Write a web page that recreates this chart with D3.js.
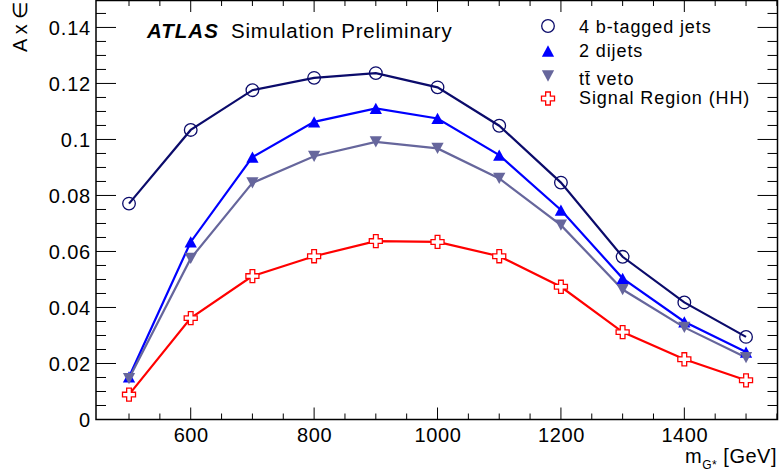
<!DOCTYPE html>
<html>
<head>
<meta charset="utf-8">
<script src="https://cdn.jsdelivr.net/npm/d3@7"></script>
<style>
html,body{margin:0;padding:0;background:#fff;}
svg{display:block;font-family:"Liberation Sans",Arial,Helvetica,sans-serif;}
</style>
</head>
<body>
<svg id="chart" width="782" height="474"></svg>
<script>
const masses = [500, 600, 700, 800, 900, 1000, 1100, 1200, 1300, 1400, 1500];
const fourB = [0.0771, 0.1034, 0.1176, 0.1220, 0.1237, 0.1186, 0.1049, 0.0846, 0.0581, 0.0418, 0.0295];
const twoDijets = [0.0152, 0.0634, 0.0937, 0.1063, 0.1111, 0.1075, 0.0944, 0.0748, 0.0504, 0.0349, 0.0241];
const ttVeto = [0.0146, 0.0575, 0.0845, 0.0940, 0.0991, 0.0968, 0.0861, 0.0694, 0.0464, 0.0329, 0.0221];
const signalRegion = [0.0089, 0.0362, 0.0512, 0.0583, 0.0637, 0.0634, 0.0583, 0.0474, 0.0312, 0.0215, 0.0140];
const seriesNames = ["4 b-tagged jets", "2 dijets", "tt\u0304 veto", "Signal Region (HH)"];
const xTickValues = [600, 800, 1000, 1200, 1400];
const yTickValues = [0, 0.02, 0.04, 0.06, 0.08, 0.1, 0.12, 0.14];
const yTickLabels = ["0", "0.02", "0.04", "0.06", "0.08", "0.1", "0.12", "0.14"];

const svg = d3.select("#chart");
const L = 96, R = 777.5, T = 0, B = 419.5;
const x = d3.scaleLinear().domain([446.5, 1551]).range([L, R]);
const y = d3.scaleLinear().domain([0, 0.1498]).range([B, T]);

// custom marker symbols
const triUp = { draw(ctx, size) { const s = Math.sqrt(size); const w = s/2, h = s*0.46;
  ctx.moveTo(0, -h); ctx.lineTo(w, h); ctx.lineTo(-w, h); ctx.closePath(); } };
const triDown = { draw(ctx, size) { const s = Math.sqrt(size); const w = s/2, h = s*0.46;
  ctx.moveTo(0, h); ctx.lineTo(w, -h); ctx.lineTo(-w, -h); ctx.closePath(); } };
const openCross = { draw(ctx, size) { const a = Math.sqrt(size)/2, b = a*0.36;
  ctx.moveTo(-b, -a); ctx.lineTo(b, -a); ctx.lineTo(b, -b); ctx.lineTo(a, -b); ctx.lineTo(a, b);
  ctx.lineTo(b, b); ctx.lineTo(b, a); ctx.lineTo(-b, a); ctx.lineTo(-b, b); ctx.lineTo(-a, b);
  ctx.lineTo(-a, -b); ctx.lineTo(-b, -b); ctx.closePath(); } };

const series = [
  { name: seriesNames[0], values: fourB, color: "#0b0b6b", symbol: d3.symbolCircle, size: 125, fill: "none", sw: 1.3 },
  { name: seriesNames[1], values: twoDijets, color: "#0000ff", symbol: triUp, size: 150, fill: "#0000ff", sw: 0 },
  { name: seriesNames[2], values: ttVeto, color: "#66669c", symbol: triDown, size: 150, fill: "#66669c", sw: 0 },
  { name: seriesNames[3], values: signalRegion, color: "#ff0000", symbol: openCross, size: 170, fill: "#ffffff", sw: 1.3 }
];

const g = svg.append("g");
const axBottom = d3.axisBottom(x).tickValues(xTickValues).tickSize(0).tickPadding(0).tickFormat(d3.format("d"));
const minorX = d3.range(500, 1551, 50).filter(v => v % 200 !== 0);
const minorY = d3.range(0.005, 0.1498, 0.005).filter(v => Math.abs(v/0.02 - Math.round(v/0.02)) > 1e-6);

const gb = g.append("g").attr("transform", `translate(0,${B})`).call(axBottom);
gb.select(".domain").remove();
gb.selectAll("text").attr("dy", 0).attr("y", 22).attr("font-size", 20).attr("fill", "#000")
  .attr("letter-spacing", "0.6px")
  .attr("font-family", "Liberation Sans, Arial, sans-serif");
const tickStyle = s => s.attr("stroke", "#000").attr("stroke-width", 1);
g.selectAll(".xmaj").data(xTickValues).join("line").call(tickStyle)
  .attr("x1", d => x(d)).attr("x2", d => x(d)).attr("y1", B).attr("y2", B - 12);
g.selectAll(".xmin").data(minorX).join("line").call(tickStyle)
  .attr("x1", d => x(d)).attr("x2", d => x(d)).attr("y1", B).attr("y2", B - 6);
g.selectAll(".xmajT").data(xTickValues).join("line").call(tickStyle)
  .attr("x1", d => x(d)).attr("x2", d => x(d)).attr("y1", T).attr("y2", T + 12);
g.selectAll(".xminT").data(minorX).join("line").call(tickStyle)
  .attr("x1", d => x(d)).attr("x2", d => x(d)).attr("y1", T).attr("y2", T + 6);
g.selectAll(".ymaj").data(yTickValues.slice(1)).join("line").call(tickStyle)
  .attr("x1", L).attr("x2", L + 20).attr("y1", d => y(d)).attr("y2", d => y(d));
g.selectAll(".ymin").data(minorY).join("line").call(tickStyle)
  .attr("x1", L).attr("x2", L + 10).attr("y1", d => y(d)).attr("y2", d => y(d));
g.selectAll(".ymajR").data(yTickValues.slice(1)).join("line").call(tickStyle)
  .attr("x1", R).attr("x2", R - 20).attr("y1", d => y(d)).attr("y2", d => y(d));
g.selectAll(".yminR").data(minorY).join("line").call(tickStyle)
  .attr("x1", R).attr("x2", R - 10).attr("y1", d => y(d)).attr("y2", d => y(d));
const axLeft = d3.axisLeft(y).tickValues(yTickValues).tickSize(0).tickPadding(5)
  .tickFormat((d, i) => yTickLabels[i]);
const gl = g.append("g").attr("transform", `translate(${L},0)`).call(axLeft);
gl.select(".domain").remove();
gl.selectAll("text").attr("font-size", 20).attr("fill", "#000").attr("dy", "0.36em")
  .attr("letter-spacing", "0.8px")
  .attr("font-family", "Liberation Sans, Arial, sans-serif");

g.append("rect").attr("x", L).attr("y", T + 0.5).attr("width", R - L).attr("height", B - T - 0.5)
  .attr("fill", "none").attr("stroke", "#000").attr("stroke-width", 1.5);

const line = d3.line().x(d => x(d[0])).y(d => y(d[1]));
series.forEach(s => {
  const pts = masses.map((m, i) => [m, s.values[i]]);
  svg.append("path").datum(pts).attr("d", line).attr("fill", "none")
    .attr("stroke", s.color).attr("stroke-width", 2.2);
});
series.forEach(s => {
  const pts = masses.map((m, i) => [m, s.values[i]]);
  svg.append("g").selectAll("path").data(pts).join("path")
    .attr("transform", d => `translate(${x(d[0])},${y(d[1])})`)
    .attr("d", d3.symbol().type(s.symbol).size(s.size))
    .attr("fill", s.fill === "none" ? "none" : s.fill)
    .attr("stroke", s.sw ? s.color : "none").attr("stroke-width", s.sw);
});

// legend
const legY = [26, 51, 76, 98.5];
const legTextY = [32.7, 57.3, 85, 104];
series.forEach((s, i) => {
  svg.append("path").attr("transform", `translate(548,${legY[i]})`)
    .attr("d", d3.symbol().type(s.symbol).size(s.size))
    .attr("fill", s.fill === "none" ? "none" : s.fill)
    .attr("stroke", s.sw ? s.color : "none").attr("stroke-width", s.sw);
  svg.append("text").attr("x", 579).attr("y", legTextY[i]).attr("font-size", 18)
    .attr("letter-spacing", "0.9px")
    .attr("fill", "#000").text(s.name);
});

// ATLAS label
const atl = svg.append("text").attr("x", 147).attr("y", 38).attr("font-size", 20.5).attr("fill", "#000");
atl.append("tspan").attr("font-weight", "bold").attr("font-style", "italic").attr("letter-spacing", "1px").text("ATLAS");
atl.append("tspan").attr("x", 231).attr("letter-spacing", "0.8px").text("Simulation Preliminary");

// axis titles
svg.append("text").attr("transform", "translate(27,52) rotate(-90)").attr("font-size", 20)
  .attr("fill", "#000").text("A x \u2208");
const xt = svg.append("text").attr("x", 777).attr("y", 463).attr("text-anchor", "end")
  .attr("font-size", 20).attr("letter-spacing", "0.5px").attr("fill", "#000");
xt.append("tspan").text("m");
xt.append("tspan").attr("font-size", 12).attr("dy", 6).text("G*");
xt.append("tspan").attr("dy", -6).text(" [GeV]");
</script>
</body>
</html>
